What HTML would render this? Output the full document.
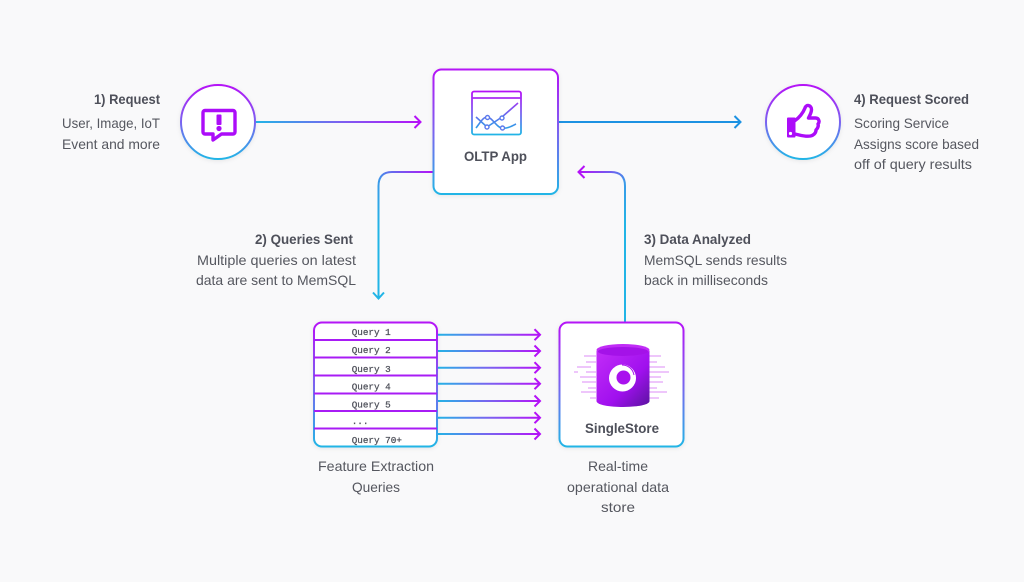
<!DOCTYPE html>
<html><head><meta charset="utf-8">
<style>
html,body{margin:0;padding:0;background:#f9f9fa;width:1024px;height:582px;overflow:hidden}
svg{display:block}
text{font-family:"Liberation Sans",sans-serif;fill:#55575f;font-size:14px}
.b{font-weight:bold;fill:#4e505a}
.m{font-family:"Liberation Mono",monospace;font-size:9.3px;fill:#4e505a;stroke:#4e505a;stroke-width:.25}
</style></head><body>
<svg width="1024" height="582" viewBox="0 0 1024 582" xmlns="http://www.w3.org/2000/svg">
<defs>
<linearGradient id="v" x1="0" y1="0" x2="0" y2="1"><stop offset="0" stop-color="#b512f7"/><stop offset=".5" stop-color="#7a63f0"/><stop offset="1" stop-color="#22b5e6"/></linearGradient>
<linearGradient id="c" gradientUnits="userSpaceOnUse" x1="0" y1="103" x2="0" y2="128"><stop offset="0" stop-color="#9a3df2"/><stop offset="1" stop-color="#2f9de8"/></linearGradient>
<linearGradient id="a1" gradientUnits="userSpaceOnUse" x1="256" y1="0" x2="420" y2="0"><stop offset="0" stop-color="#22b5e6"/><stop offset=".5" stop-color="#7a63f0"/><stop offset="1" stop-color="#b512f7"/></linearGradient>
<linearGradient id="a2" gradientUnits="userSpaceOnUse" x1="437" y1="0" x2="540" y2="0"><stop offset="0" stop-color="#22b5e6"/><stop offset=".5" stop-color="#7a63f0"/><stop offset="1" stop-color="#b512f7"/></linearGradient>
<linearGradient id="d" gradientUnits="userSpaceOnUse" x1="433" y1="172" x2="378" y2="230"><stop offset="0" stop-color="#b512f7"/><stop offset=".55" stop-color="#3a9ae8"/><stop offset="1" stop-color="#22b5e6"/></linearGradient>
<linearGradient id="u" gradientUnits="userSpaceOnUse" x1="578" y1="172" x2="625" y2="225"><stop offset="0" stop-color="#b512f7"/><stop offset=".55" stop-color="#3a9ae8"/><stop offset="1" stop-color="#22b5e6"/></linearGradient>
<linearGradient id="cyl" x1="0" y1="0" x2="1" y2="1"><stop offset="0" stop-color="#c22cf8"/><stop offset=".6" stop-color="#a010ee"/><stop offset="1" stop-color="#5a139f"/></linearGradient>
<filter id="s" x="-10%" y="-10%" width="120%" height="120%"><feDropShadow dx="0" dy="1" stdDeviation="2" flood-color="#000" flood-opacity=".08"/></filter>
</defs>

<!-- connectors -->
<g fill="none" stroke-width="2">
<path d="M256 122H420" stroke="url(#a1)"/>
<path d="M414.500 116l6 6-6 6" stroke="#b512f7"/>
<path d="M558 122H740" stroke="#1d92e2"/>
<path d="M734.500 116l6 6-6 6" stroke="#1d92e2"/>
<path d="M433 172H392Q378.500 172 378.500 186V298" stroke="url(#d)"/>
<path d="M373 292.500l5.500 6 5.500-6" stroke="#22b5e6"/>
<path d="M625 322V186Q625 172 611 172H578.500" stroke="url(#u)"/>
<path d="M584.500 166l-6 6 6 6" stroke="#b512f7"/>
<path d="M437 334.700H540M437 351H540M437 367.700H540M437 383.700H540M437 401H540M437 417.700H540M437 434H540" stroke="url(#a2)"/>
<path d="M534.500 329.200l5.500 5.500-5.500 5.500M534.500 345.500l5.500 5.500-5.500 5.500M534.500 362.200l5.500 5.500-5.500 5.500M534.500 378.200l5.500 5.500-5.500 5.500M534.500 395.500l5.500 5.500-5.500 5.500M534.500 412.200l5.500 5.500-5.500 5.500M534.500 428.500l5.500 5.500-5.500 5.500" stroke="#b512f7"/>
</g>

<!-- nodes -->
<circle cx="218" cy="122" r="37" fill="#fff" stroke="url(#v)" stroke-width="2" filter="url(#s)"/>
<circle cx="803" cy="122" r="37" fill="#fff" stroke="url(#v)" stroke-width="2" filter="url(#s)"/>
<rect x="433.500" y="69.500" width="124.500" height="124.500" rx="8" fill="#fff" stroke="url(#v)" stroke-width="2" filter="url(#s)"/>
<rect x="559.500" y="322.500" width="124" height="124" rx="8" fill="#fff" stroke="url(#v)" stroke-width="2" filter="url(#s)"/>

<!-- query table -->
<rect x="314" y="322.500" width="123" height="124" rx="8" fill="#fff" stroke="url(#v)" stroke-width="2" filter="url(#s)"/>
<path d="M314 340H437M314 357.500H437M314 375.500H437M314 393.500H437M314 411H437M314 428.500H437" stroke="#a81cf5" stroke-width="2" fill="none"/>
<text class="m" x="351.700" y="335">Query 1</text>
<text class="m" x="351.700" y="353">Query 2</text>
<text class="m" x="351.700" y="372">Query 3</text>
<text class="m" x="351.700" y="389.500">Query 4</text>
<text class="m" x="351.700" y="407.500">Query 5</text>
<text class="m" x="351.700" y="424">...</text>
<text class="m" x="351.700" y="443">Query 70+</text>

<!-- alert icon -->
<path d="M205 110.500H233a2 2 0 0 1 2 2V132a2 2 0 0 1-2 2H221.500L213 140V134H205a2 2 0 0 1-2-2V112.500a2 2 0 0 1 2-2Z" fill="none" stroke="#ac0cf9" stroke-width="3.400" stroke-linejoin="round"/>
<rect x="216.500" y="114.500" width="5" height="10.500" rx="1" fill="#ac0cf9"/>
<circle cx="219" cy="128.500" r="2.600" fill="#ac0cf9"/>

<!-- thumb icon -->
<rect x="787" y="117.500" width="8.500" height="20" rx="1" fill="#ac0cf9"/>
<circle cx="790.500" cy="133.500" r="1.600" fill="#fff"/>
<path d="M795 120.500C799 118 803 113 805 108C806 104 811.500 105 811.500 109.500C811.500 113 809.500 115.500 808.500 118H815.500C819 118 820 122 818 124C819 127 817 129 816 130C816 133.500 813 135.500 810.500 136C805 137 800 135 795 134" fill="none" stroke="#ac0cf9" stroke-width="3.400" stroke-linejoin="round" stroke-linecap="round"/>

<!-- chart icon -->
<rect x="472" y="91.500" width="49" height="43" rx="2" fill="none" stroke="url(#v)" stroke-width="1.800"/>
<path d="M472 98H521" stroke="#a82bf3" stroke-width="1.800"/>
<path d="M476 117L487 127L502 117L518 103" fill="none" stroke="url(#c)" stroke-width="1.600"/>
<path d="M476 128C480 123 483 117 487 117C492 117 497 128 502 128C507 129 512 126 516 124" fill="none" stroke="url(#c)" stroke-width="1.600"/>
<g fill="#fff" stroke="#5a78ec" stroke-width="1.400"><circle cx="487.500" cy="117.500" r="2"/><circle cx="487" cy="127" r="2"/><circle cx="502" cy="118" r="2"/><circle cx="502.500" cy="128" r="2"/></g>

<!-- database icon -->
<g fill="#eec6fb">
<rect x="574" y="371" width="4" height="2"/><rect x="577" y="366" width="14" height="2"/><rect x="584" y="355" width="12" height="2"/><rect x="586" y="361" width="10" height="2"/><rect x="580" y="376" width="16" height="2"/><rect x="582" y="381" width="14" height="2"/><rect x="588" y="387" width="8" height="2"/><rect x="581" y="391" width="15" height="2"/><rect x="590" y="397" width="6" height="2"/><rect x="586" y="371" width="10" height="2"/>
<rect x="649" y="355" width="12" height="2"/><rect x="649" y="361" width="8" height="2"/><rect x="649" y="366" width="16" height="2"/><rect x="649" y="371" width="20" height="2"/><rect x="649" y="376" width="12" height="2"/><rect x="649" y="381" width="14" height="2"/><rect x="649" y="387" width="8" height="2"/><rect x="649" y="391" width="18" height="2"/><rect x="649" y="397" width="10" height="2"/>
</g>
<path d="M596.500 351V401C596.500 409 649.500 409 649.500 401V351Z" fill="url(#cyl)"/>
<ellipse cx="623" cy="350" rx="26.500" ry="6" fill="#c02cf6"/>
<ellipse cx="623" cy="351.500" rx="25" ry="4.500" fill="#a412e8"/>
<circle cx="622.500" cy="378" r="13.500" fill="#fff"/>
<circle cx="623.500" cy="377.500" r="7" fill="#a912ee"/>
<path d="M622 365C628 365 633 369 634 375" fill="none" stroke="#a912ee" stroke-width="1"/>

<!-- labels -->
<text class="b" x="464" y="161" textLength="63" lengthAdjust="spacingAndGlyphs">OLTP App</text>
<text class="b" x="585" y="433" textLength="74" lengthAdjust="spacingAndGlyphs">SingleStore</text>

<text class="b" x="94" y="104" textLength="66" lengthAdjust="spacingAndGlyphs">1) Request</text>
<text x="62" y="128" textLength="98" lengthAdjust="spacingAndGlyphs">User, Image, IoT</text>
<text x="62" y="149" textLength="98" lengthAdjust="spacingAndGlyphs">Event and more</text>

<text class="b" x="255" y="244" textLength="98" lengthAdjust="spacingAndGlyphs">2) Queries Sent</text>
<text x="197" y="265" textLength="159" lengthAdjust="spacingAndGlyphs">Multiple queries on latest</text>
<text x="196" y="285" textLength="160" lengthAdjust="spacingAndGlyphs">data are sent to MemSQL</text>

<text class="b" x="644" y="244" textLength="107" lengthAdjust="spacingAndGlyphs">3) Data Analyzed</text>
<text x="644" y="265" textLength="143" lengthAdjust="spacingAndGlyphs">MemSQL sends results</text>
<text x="644" y="285" textLength="124" lengthAdjust="spacingAndGlyphs">back in milliseconds</text>

<text class="b" x="854" y="104" textLength="115" lengthAdjust="spacingAndGlyphs">4) Request Scored</text>
<text x="854" y="128" textLength="95" lengthAdjust="spacingAndGlyphs">Scoring Service</text>
<text x="854" y="149" textLength="125" lengthAdjust="spacingAndGlyphs">Assigns score based</text>
<text x="854" y="169" textLength="118" lengthAdjust="spacingAndGlyphs">off of query results</text>

<text x="318" y="471" textLength="116" lengthAdjust="spacingAndGlyphs">Feature Extraction</text>
<text x="352" y="492" textLength="48" lengthAdjust="spacingAndGlyphs">Queries</text>

<text x="588" y="471" textLength="60" lengthAdjust="spacingAndGlyphs">Real-time</text>
<text x="567" y="492" textLength="102" lengthAdjust="spacingAndGlyphs">operational data</text>
<text x="601" y="512" textLength="34" lengthAdjust="spacingAndGlyphs">store</text>
</svg>
</body></html>
